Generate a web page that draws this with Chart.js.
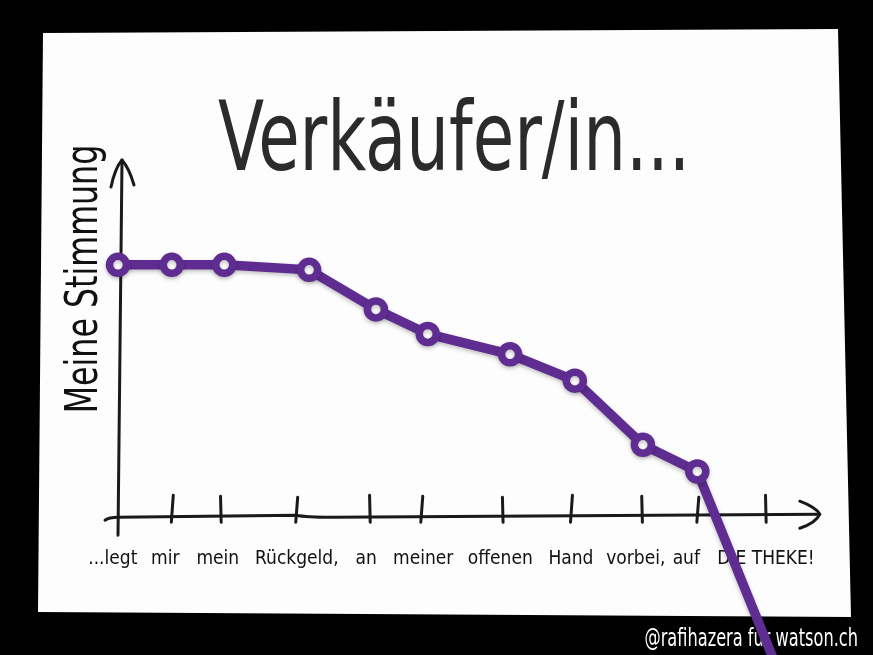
<!DOCTYPE html>
<html>
<head>
<meta charset="utf-8">
<script src="https://cdn.jsdelivr.net/npm/chart.js@4"></script>
<style>
    html, body { margin: 0; padding: 0; background: #000; }
    #wrap { width: 873px; height: 655px; }
</style>
</head>
<body>
<div id="wrap"><canvas id="chart" width="873" height="655"></canvas></div>
<script>
// ======================= DATA =======================

// words along the x axis (the sentence)
const categories = ['...legt', 'mir', 'mein', 'Rückgeld,', 'an', 'meiner', 'offenen', 'Hand', 'vorbei,', 'auf', 'DIE THEKE!'];
// where each word sits on the x axis (word position units)
const labelPos = [-0.08, 0.73, 1.54, 2.76, 3.83, 4.71, 5.90, 6.99, 7.99, 8.77, 10.0];
// hand drawn tick marks on the x axis
const tickPos = [0.83, 1.59, 2.75, 3.89, 4.68, 5.94, 6.99, 8.09, 8.94, 10.0];

// "Meine Stimmung" line
const moodX = [0, 0.83, 1.64, 2.95, 3.98, 4.78, 6.05, 7.05, 8.10, 8.94, 10.43];
const moodY = [7.14, 7.14, 7.14, 7.0, 5.89, 5.2, 4.63, 3.89, 2.09, 1.34, -5.34];

const TITLE = 'Verkäufer/in...';
const Y_TITLE = 'Meine Stimmung';
const CREDIT = '@rafihazera für watson.ch';

const PURPLE = '#5f2d91';
const INK = '#2b2b2b';
const FONT = "'DejaVu Sans Condensed', 'DejaVu Sans', sans-serif";

// squeezed text, the original uses a condensed face
function narrowText(ctx, text, x, y, squeeze) {
    ctx.save();
    ctx.translate(x, y);
    ctx.scale(squeeze, 1);
    ctx.fillText(text, 0, 0);
    ctx.restore();
}

// ======================= DECORATION PLUGIN =======================

const sketchPlugin = {
    id: 'sketch',
    beforeDraw(chart) {
        const ctx = chart.ctx;
        ctx.save();
        // black background
        ctx.fillStyle = '#000';
        ctx.fillRect(0, 0, chart.width, chart.height);
        // the sheet of paper, slightly skewed
        ctx.fillStyle = '#fdfdfd';
        ctx.beginPath();
        ctx.moveTo(43, 33);
        ctx.lineTo(838, 29);
        ctx.lineTo(851, 617);
        ctx.lineTo(38, 612);
        ctx.closePath();
        ctx.fill();

        // title
        ctx.fillStyle = INK;
        ctx.font = `96px ${FONT}`;
        ctx.textAlign = 'center';
        ctx.textBaseline = 'alphabetic';
        narrowText(ctx, TITLE, 454, 170, 0.78);

        // y axis title
        ctx.save();
        ctx.translate(97, 279);
        ctx.rotate(-Math.PI / 2);
        ctx.font = `44px ${FONT}`;
        ctx.fillStyle = '#111';
        narrowText(ctx, Y_TITLE, 0, 0, 0.8);
        ctx.restore();

        // credit
        ctx.fillStyle = '#fff';
        ctx.font = `25px ${FONT}`;
        ctx.textAlign = 'right';
        narrowText(ctx, CREDIT, 858, 646, 0.72);
        ctx.restore();
    },
    beforeDatasetsDraw(chart) {
        const ctx = chart.ctx;
        const xs = chart.scales.x, ys = chart.scales.y;
        const x0 = xs.getPixelForValue(0);
        const y0 = ys.getPixelForValue(0) - 2;
        const yTop = ys.getPixelForValue(10);
        const xEnd = xs.getPixelForValue(10.83);

        ctx.save();
        ctx.strokeStyle = '#1a1a1a';
        ctx.lineWidth = 3;
        ctx.lineCap = 'round';
        ctx.lineJoin = 'round';

        // y axis with open arrow
        ctx.beginPath();
        ctx.moveTo(x0, y0 + 18);
        ctx.quadraticCurveTo(x0 + 2, (y0 + yTop) / 2, x0 + 4, yTop - 3);
        ctx.stroke();
        ctx.beginPath();
        ctx.moveTo(x0 - 7, yTop + 24);
        ctx.quadraticCurveTo(x0 - 3, yTop + 5, x0 + 4, yTop - 3);
        ctx.quadraticCurveTo(x0 + 11, yTop + 5, x0 + 16, yTop + 22);
        ctx.stroke();

        // x axis with open arrow
        ctx.beginPath();
        ctx.moveTo(x0 - 13, y0 + 3);
        ctx.quadraticCurveTo(x0 - 9, y0, x0, y0);
        ctx.lineTo(xs.getPixelForValue(2.75), y0 - 2);
        ctx.quadraticCurveTo(xs.getPixelForValue(2.9), y0, xs.getPixelForValue(3.3), y0);
        ctx.lineTo(xEnd, y0 - 3);
        ctx.stroke();
        ctx.beginPath();
        ctx.moveTo(xEnd - 20, y0 - 16);
        ctx.quadraticCurveTo(xEnd - 4, y0 - 10, xEnd, y0 - 3);
        ctx.quadraticCurveTo(xEnd - 4, y0 + 6, xEnd - 20, y0 + 11);
        ctx.stroke();

        // tick marks
        tickPos.forEach((v, i) => {
            const px = xs.getPixelForValue(v);
            const lean = (i % 2 === 0) ? 1.5 : -0.5;
            ctx.beginPath();
            ctx.moveTo(px + lean, y0 - 22 + (i % 3));
            ctx.lineTo(px - lean * 0.3, y0 + 5);
            ctx.stroke();
        });
        ctx.restore();

        // soft shadow under the purple line
        ctx.save();
        ctx.shadowColor = 'rgba(0,0,0,0.25)';
        ctx.shadowBlur = 4;
        ctx.shadowOffsetY = 2;
    },
    afterDatasetsDraw(chart) {
        chart.ctx.restore();
    }
};

// ======================= CHART =======================

new Chart(document.getElementById('chart'), {
    type: 'line',
    data: {
        datasets: [{
            data: moodX.map((x, i) => ({ x: x, y: moodY[i] })),
            borderColor: PURPLE,
            borderWidth: 9.5,
            backgroundColor: '#fff',
            pointBackgroundColor: '#fff',
            pointBorderColor: PURPLE,
            pointBorderWidth: 7.5,
            pointRadius: 8.5,
            pointHoverRadius: 8.5,
            tension: 0,
            clip: false
        }]
    },
    options: {
        responsive: false,
        animation: false,
        events: [],
        layout: { padding: { left: 118, right: 107, top: 163, bottom: 57 } },
        plugins: { legend: { display: false }, tooltip: { enabled: false }, title: { display: false } },
        scales: {
            x: {
                type: 'linear',
                min: 0,
                max: 10,
                grid: { display: false, drawTicks: false },
                border: { display: false },
                afterBuildTicks: (scale) => { scale.ticks = labelPos.map(v => ({ value: v })); },
                ticks: {
                    autoSkip: false,
                    maxRotation: 0,
                    padding: 28,
                    color: '#111',
                    font: { family: FONT, size: 19 },
                    callback: (value, index) => categories[index]
                }
            },
            y: { display: false, min: 0, max: 10 }
        }
    },
    plugins: [sketchPlugin]
});
</script>
</body>
</html>
